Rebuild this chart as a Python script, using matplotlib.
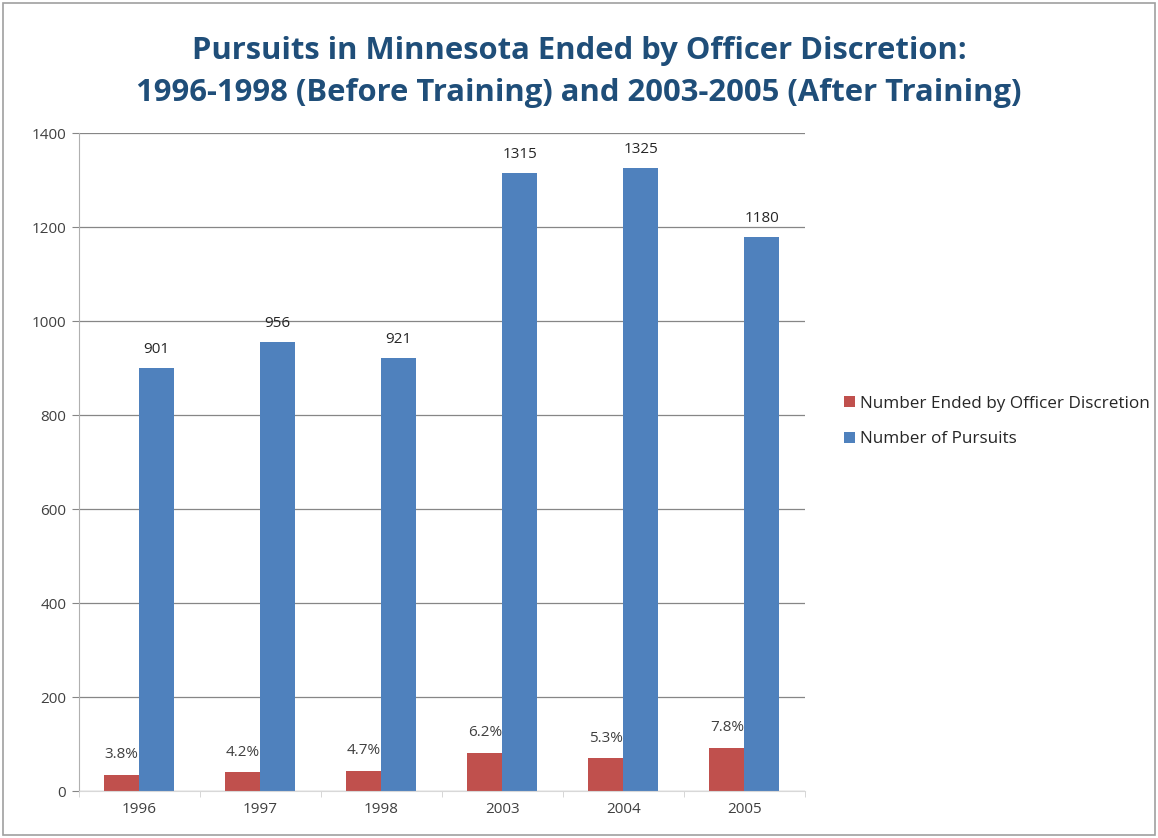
import numpy as np
import matplotlib.pyplot as plt
import matplotlib as mpl
from matplotlib.patches import Rectangle

mpl.use("Agg")

###############################################################################

years = ["1996", "1997", "1998", "2003", "2004", "2005"]
pursuits = [901, 956, 921, 1315, 1325, 1180]
ended = [35, 40, 43, 82, 70, 92]
ended_pct = ["3.8%", "4.2%", "4.7%", "6.2%", "5.3%", "7.8%"]

series_names = ["Number Ended by Officer Discretion", "Number of Pursuits"]
colors = ["#C0504D", "#4F81BD"]

title = (
    "Pursuits in Minnesota Ended by Officer Discretion:\n"
    "1996-1998 (Before Training) and 2003-2005 (After Training)"
)

###############################################################################

plt.rcParams["font.family"] = ["Open Sans", "DejaVu Sans"]

fig = plt.figure(figsize=(11.58, 8.38), dpi=100)
ax = fig.add_axes([0.068, 0.056, 0.627, 0.785])

x = np.arange(len(years))
w = 0.29

bars_red = ax.bar(x - w / 2, ended, w, color=colors[0], label=series_names[0])
bars_blue = ax.bar(x + w / 2, pursuits, w, color=colors[1], label=series_names[1])

for b, lab in zip(bars_red, ended_pct):
    ax.annotate(
        lab,
        (b.get_x() + b.get_width() / 2, b.get_height()),
        xytext=(0, 9),
        textcoords="offset points",
        ha="center",
        va="bottom",
        fontsize=11,
        color="#404040",
    )
for b, v in zip(bars_blue, pursuits):
    ax.annotate(
        str(v),
        (b.get_x() + b.get_width() / 2, b.get_height()),
        xytext=(0, 8),
        textcoords="offset points",
        ha="center",
        va="bottom",
        fontsize=11,
        color="#262626",
    )

ax.set_xlim(-0.5, len(years) - 0.5)
ax.set_ylim(0, 1400)
ax.set_yticks(np.arange(0, 1401, 200))
ax.set_xticks(x)
ax.set_xticklabels(years)
ax.tick_params(axis="x", length=0, labelsize=11, labelcolor="#404040", pad=8)
ax.tick_params(axis="y", length=5, color="#868686", labelsize=11,
               labelcolor="#404040", pad=4)
ax.set_xticks(np.arange(-0.5, len(years), 1), minor=True)
ax.tick_params(axis="x", which="minor", length=4, color="#D0D0D0")

ax.grid(axis="y", color="#868686", linewidth=0.9)
ax.set_axisbelow(True)
for s in ["top", "right"]:
    ax.spines[s].set_visible(False)
ax.spines["left"].set_color("#B0B0B0")
ax.spines["bottom"].set_color("#D8D8D8")

ax.legend(
    loc="center left",
    bbox_to_anchor=(1.045, 0.562),
    frameon=False,
    fontsize=12.3,
    handlelength=0.6,
    handleheight=0.6,
    handletextpad=0.3,
    labelspacing=1.15,
    labelcolor="#262626",
    borderaxespad=0,
)

fig.text(
    0.5,
    0.914,
    title,
    ha="center",
    va="center",
    fontsize=22.3,
    fontweight="bold",
    color="#1F4E79",
    linespacing=1.5,
)

fig.patches.append(
    Rectangle((0.003, 0.003), 0.994, 0.994, transform=fig.transFigure,
              fill=False, edgecolor="#A0A0A0", linewidth=1.2)
)

plt.savefig("out.png", dpi=100)
plt.close()
